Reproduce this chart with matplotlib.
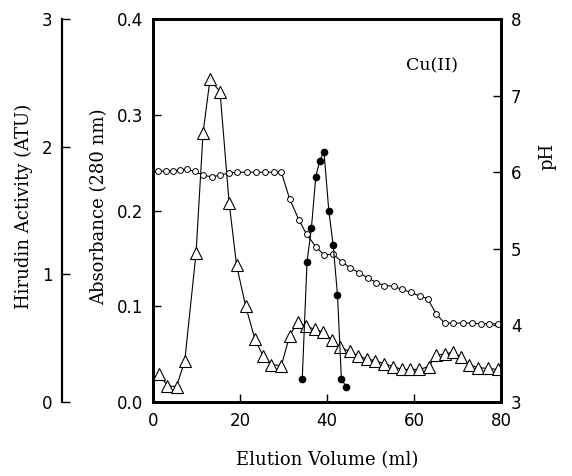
import matplotlib
matplotlib.use("Agg")
import matplotlib.pyplot as plt

plt.rcParams.update({
    "font.family": "DejaVu Sans",
    "font.size": 12,
    "savefig.dpi": 100,
})
label_font = {"family": "DejaVu Serif", "size": 13}

# absorbance at 280 nm (open triangles)
abs_vol = [1.4, 3.3, 5.4, 7.3, 9.9, 11.5, 13.1, 15.4, 17.5, 19.2, 21.3, 23.4,
           25.3, 27.2, 29.5, 31.4, 33.3, 35.2, 37.2, 39.1, 41.1, 42.9, 45.2,
           47.1, 49.2, 51.1, 53.2, 55.1, 57.3, 59.1, 61.2, 63.4, 65.1, 67.0,
           68.9, 70.8, 72.7, 74.6, 76.9, 79.2]
absorbance = [0.029, 0.017, 0.016, 0.043, 0.156, 0.281, 0.337, 0.324, 0.208,
              0.143, 0.100, 0.066, 0.048, 0.039, 0.038, 0.069, 0.084, 0.079,
              0.076, 0.073, 0.065, 0.057, 0.053, 0.048, 0.045, 0.043, 0.040,
              0.037, 0.034, 0.034, 0.034, 0.037, 0.049, 0.050, 0.052, 0.047,
              0.039, 0.036, 0.035, 0.034]

# pH of fractions (small open circles)
ph_vol = [1.2, 3.0, 4.7, 6.2, 7.7, 9.6, 11.5, 13.5, 15.4, 17.4, 19.3, 21.5,
          23.6, 25.7, 27.8, 29.5, 31.4, 33.6, 35.3, 37.4, 39.3, 41.4, 43.4,
          45.3, 47.3, 49.4, 51.3, 53.2, 55.3, 57.3, 59.3, 61.4, 63.1, 65.1,
          67.0, 69.0, 71.2, 73.3, 75.4, 77.3, 79.4]
ph = [6.01, 6.02, 6.02, 6.03, 6.04, 6.01, 5.96, 5.94, 5.96, 5.99, 6.00, 6.00,
      6.00, 6.00, 6.00, 6.00, 5.65, 5.37, 5.19, 5.03, 4.92, 4.93, 4.83, 4.75,
      4.69, 4.62, 4.56, 4.52, 4.51, 4.47, 4.43, 4.38, 4.35, 4.15, 4.03, 4.03,
      4.03, 4.03, 4.02, 4.02, 4.02]

# hirudin activity (filled circles)
act_vol = [34.3, 35.4, 36.4, 37.4, 38.3, 39.3, 40.4, 41.4, 42.4, 43.3, 44.4]
activity = [0.18, 1.10, 1.36, 1.76, 1.89, 1.96, 1.50, 1.23, 0.84, 0.18, 0.12]

fig = plt.figure(figsize=(5.72, 4.76))
ax = fig.add_axes([0.2675, 0.1555, 0.6085, 0.8045])
ax_ph = ax.twinx()
ax_act = ax.twinx()

ax.plot(abs_vol, absorbance, "-^", color="black", lw=0.8, ms=8.5,
        mfc="white", mec="black", mew=0.8, zorder=3)
ax_ph.plot(ph_vol, ph, "-o", color="black", lw=0.8, ms=4.2,
           mfc="white", mec="black", mew=0.7)
ax_act.plot(act_vol, activity, "-o", color="black", lw=0.8, ms=4.5,
            mfc="black", mec="black")

ax.set_xlim(0, 80)
ax.set_ylim(0, 0.4)
ax.set_xticks([0, 20, 40, 60, 80])
ax.set_yticks([0.0, 0.1, 0.2, 0.3, 0.4])
ax.set_yticklabels(["0.0", "0.1", "0.2", "0.3", "0.4"])
ax_ph.set_ylim(3, 8)
ax_ph.set_yticks([3, 4, 5, 6, 7, 8])
ax_act.set_ylim(0, 3)
ax_act.set_yticks([0, 1, 2, 3])

for s in ax.spines.values():
    s.set_linewidth(2.0)
for s in ax_ph.spines.values():
    s.set_linewidth(2.0)

# activity axis sits on its own spine left of the box
ax_act.spines["left"].set_position(("axes", -0.2615))
ax_act.spines["left"].set_visible(True)
ax_act.spines["left"].set_linewidth(1.6)
for side in ["right", "top", "bottom"]:
    ax_act.spines[side].set_visible(False)
ax_act.yaxis.set_ticks_position("left")
ax_act.yaxis.set_label_position("left")

ax.tick_params(direction="in", length=6, width=1, pad=7, top=False)
ax_ph.tick_params(direction="in", length=6, width=1, pad=7)
ax_act.tick_params(direction="in", length=6, width=1, pad=7)

ax.set_xlabel("Elution Volume (ml)", fontdict=label_font)
ax.set_ylabel("Absorbance (280 nm)", fontdict=label_font)
ax_ph.set_ylabel("pH", fontdict=label_font, rotation=90)
ax_act.set_ylabel("Hirudin Activity (ATU)", fontdict=label_font)
ax.xaxis.set_label_coords(0.5, -0.128)
ax.yaxis.set_label_coords(-0.129, 0.51)
ax_act.yaxis.set_label_coords(-0.345, 0.51)
ax_ph.yaxis.set_label_coords(1.108, 0.64)

ax.text(64.2, 0.351, "Cu(II)", ha="center", va="center",
        fontdict={"family": "DejaVu Serif", "size": 12.5})

fig.savefig("out.png", dpi=100)
